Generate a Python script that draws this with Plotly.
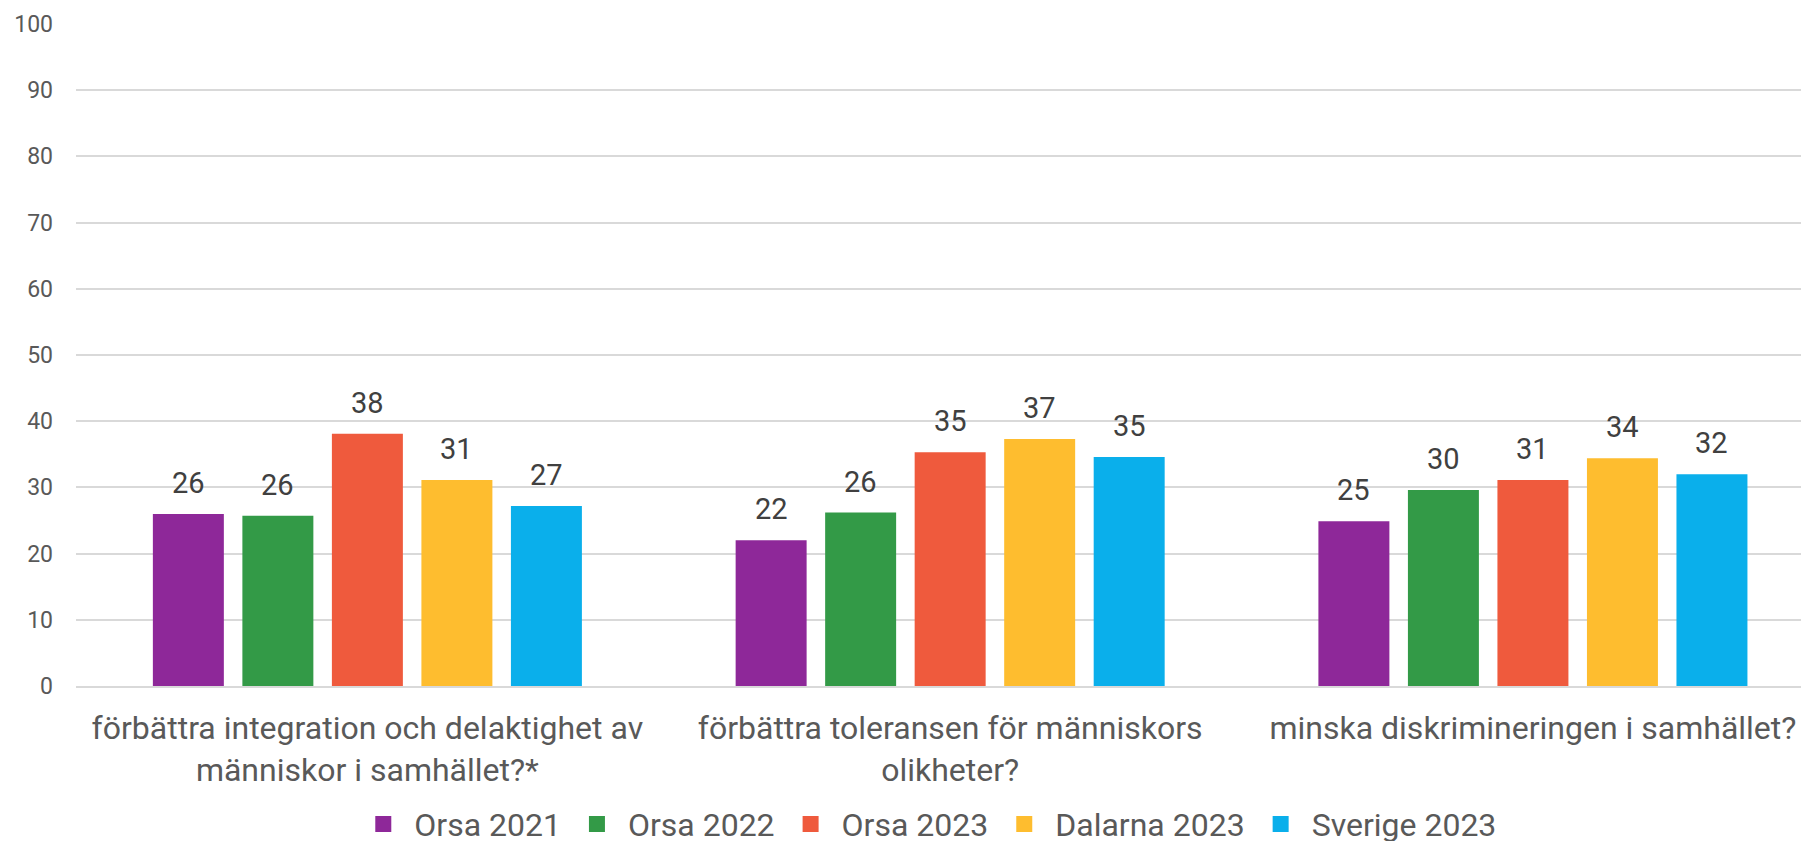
import plotly.graph_objects as go

categories = [
    "förbättra integration och delaktighet av<br>människor i samhället?*",
    "förbättra toleransen för människors<br>olikheter?",
    "minska diskrimineringen i samhället?",
]
series_names = ["Orsa 2021", "Orsa 2022", "Orsa 2023", "Dalarna 2023", "Sverige 2023"]
orsa_2021 = [26.0, 22.0, 24.9]
orsa_2022 = [25.7, 26.2, 29.6]
orsa_2023 = [38.1, 35.3, 31.1]
dalarna_2023 = [31.1, 37.3, 34.4]
sverige_2023 = [27.2, 34.6, 32.0]
colors = ["#8E2899", "#339A47", "#EF5A3D", "#FEBD2F", "#0AAFEB"]

series_values = [orsa_2021, orsa_2022, orsa_2023, dalarna_2023, sverige_2023]

bargap = 0.232
bargroupgap = 0.207
n = len(series_names)
slot = (1 - bargap) / n

fig = go.Figure()
for name, vals, col in zip(series_names, series_values, colors):
    fig.add_trace(go.Bar(
        name=name, x=categories, y=vals,
        marker=dict(color=col, line=dict(width=0)),
        hoverinfo="skip", showlegend=False,
    ))
# legend entries with larger square swatches
for name, col in zip(series_names, colors):
    fig.add_trace(go.Scatter(
        name=name, x=[None], y=[None], mode="markers",
        marker=dict(symbol="square", size=18, color=col),
        showlegend=True, hoverinfo="skip",
    ))

annotations = []
for i, vals in enumerate(series_values):
    for j, v in enumerate(vals):
        annotations.append(dict(
            x=j + (i - (n - 1) / 2) * slot, y=v, xref="x", yref="y",
            text=f"{round(v):d}", showarrow=False,
            yanchor="bottom", yshift=12,
            font=dict(family="Roboto", size=29, color="#404040"),
        ))

fig.update_layout(
    width=1801, height=841,
    margin=dict(l=76, r=0, t=24, b=155),
    paper_bgcolor="white", plot_bgcolor="white",
    barmode="group", bargap=bargap, bargroupgap=bargroupgap,
    font=dict(family="Roboto", color="#595959"),
    annotations=annotations,
    showlegend=True,
    legend=dict(
        orientation="h", xref="paper", x=0.4935, xanchor="center",
        yref="container", y=0.02, yanchor="middle",
        font=dict(family="Roboto", size=32, color="#595959"),
        traceorder="normal", itemclick=False, itemwidth=52,
    ),
)
fig.update_xaxes(
    range=[-0.5, 2.46], showgrid=False,
    showline=True, linecolor="#D9D9D9", linewidth=2,
    tickfont=dict(family="Roboto", size=32, color="#595959"),
    ticks="", ticklabelstandoff=13,
)
fig.update_yaxes(
    range=[0, 100], dtick=10, showgrid=True, gridcolor="#D9D9D9", gridwidth=2,
    zeroline=False, showline=False,
    tickfont=dict(family="Roboto", size=23, color="#595959"),
    ticks="", ticklabelstandoff=22,
)

fig.write_html("out.html", config={"displayModeBar": False},
               post_script="document.body.style.margin='0';document.body.style.overflow='hidden';")
